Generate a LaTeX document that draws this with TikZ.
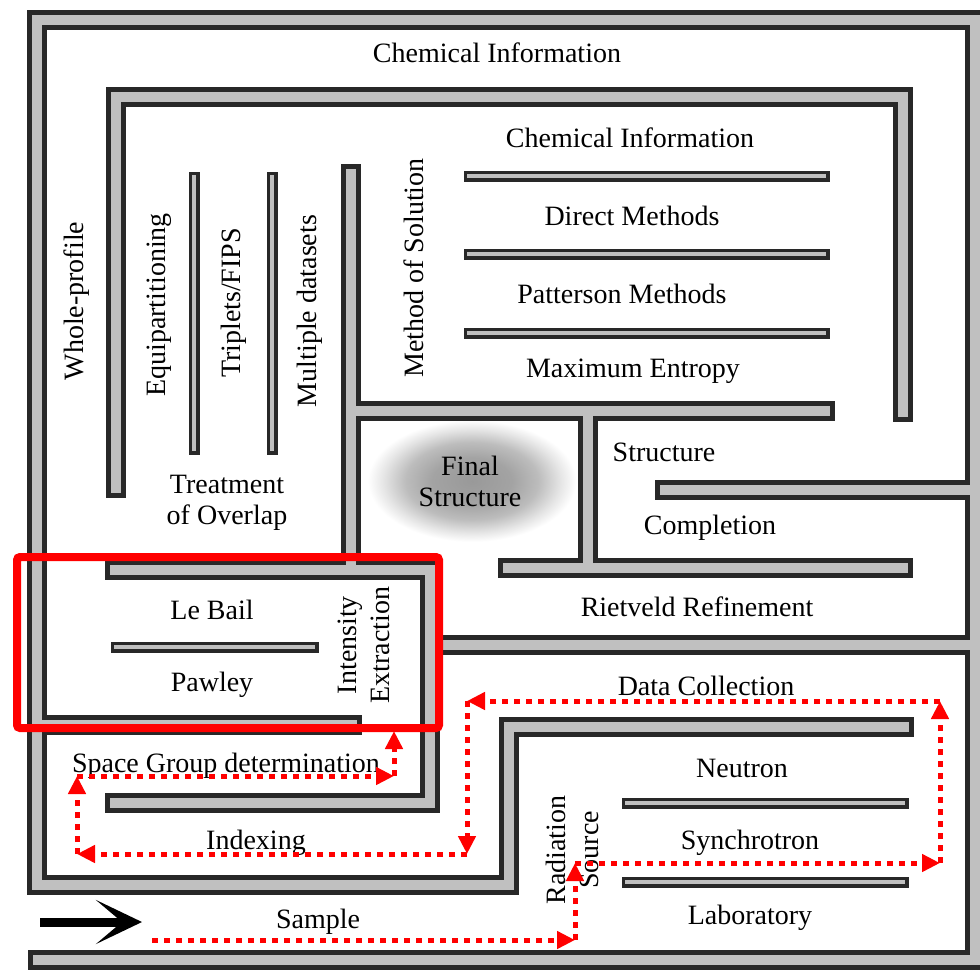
\documentclass[tikz,border=0pt]{standalone}
\usepackage{fontspec}
\setmainfont{Liberation Serif}
\usetikzlibrary{arrows.meta}

\definecolor{wallout}{RGB}{40,40,40}
\definecolor{wallin}{RGB}{192,192,192}

% soft grey patch behind the goal
\pgfdeclareradialshading{goalshade}{\pgfpoint{0bp}{0bp}}{%
  color(0bp)=(black!40); color(9bp)=(black!36); color(15bp)=(black!26);
  color(20bp)=(black!10); color(23.5bp)=(white); color(50bp)=(white)}

% all pipes of the maze, drawn twice (dark body, then grey core)
\newcommand{\mazewalls}{%
\draw[wall] (38,960) -- (975,960) -- (975,20) -- (37,20) -- (37,885) -- (509,885) -- (509,727) -- (904,727);
\draw[wall] (116,488) -- (116,97) -- (903,97) -- (903,412);
\draw[wall] (825,411) -- (351,411) -- (351,174);
\draw[wall] (351,411) -- (351,570);
\draw[wall] (588,411) -- (588,568);
\draw[wall] (508,568) -- (903,568);
\draw[wall] (665,490) -- (975,490);
\draw[wall] (430,645) -- (975,645);
\draw[wall] (115,570) -- (430,570) -- (430,803) -- (115,803);
\draw[wall] (37,725) -- (352,725);
\draw[bar] (469,176) -- (824,176);
\draw[bar] (469,254) -- (824,254);
\draw[bar] (469,333) -- (824,333);
\draw[bar] (194,177) -- (194,449);
\draw[bar] (272,177) -- (272,449);
\draw[bar] (116,647) -- (313,647);
\draw[bar] (627,803) -- (903,803);
\draw[bar] (627,882) -- (903,882);
}

\begin{document}
\begin{tikzpicture}[x=1pt, y=-1pt, line cap=rect, line join=miter,
  lbl/.style={font=\fontsize{28}{31}\selectfont, align=center, inner sep=0pt},
  vlbl/.style={lbl, rotate=90},
  blob/.style={rounded corners=45pt, shading=goalshade},
  route/.style={red, line width=5pt, line cap=butt, dash pattern=on 6pt off 6pt,
    -{Triangle[length=18pt, width=17pt]}}]
\useasboundingbox (0,0) rectangle (980,970);

% goal
\begin{scope}[shift={(472,481)}, xscale=1.68, yscale=0.98]
\shade[blob] (-66,-66) rectangle (66,66);
\end{scope}

% walls
\begin{scope}[wall/.style={line width=20pt, draw=wallout}, bar/.style={line width=11pt, draw=wallout}]
\mazewalls
\end{scope}
\begin{scope}[wall/.style={line width=10pt, draw=wallin}, bar/.style={line width=4pt, draw=wallin}]
\mazewalls
\end{scope}

% labels
\node[lbl] (chemtop) at (497,53) {Chemical Information};
\node[lbl] (chemin) at (630,138) {Chemical Information};
\node[lbl] (direct) at (632,216) {Direct Methods};
\node[lbl] (patterson) at (622,294) {Patterson Methods};
\node[lbl] (maxent) at (633,371) {Maximum Entropy};
\node[vlbl] (whole) at (77,301) {Whole-profile};
\node[vlbl] (equi) at (159,305) {Equipartitioning};
\node[vlbl] (triplets) at (234,303) {Triplets/FIPS};
\node[vlbl] (multi) at (310,311) {Multiple datasets};
\node[vlbl] (method) at (414,268) {Method of Solution};
\node[lbl] (overlap) at (227,503) {Treatment\\of Overlap};
\node[lbl] (final) at (470,481) {Final\\Structure};
\node[lbl] (structure) at (664,452) {Structure};
\node[lbl] (completion) at (710,528) {Completion};
\node[lbl] (rietveld) at (697,607) {Rietveld Refinement};
\node[lbl] (lebail) at (212,610) {Le Bail};
\node[lbl] (pawley) at (212,685) {Pawley};
\node[vlbl, font=\fontsize{28}{33}\selectfont] (intensity) at (364,645) {Intensity\\Extraction};
\node[lbl] (spacegroup) at (226,766) {Space Group determination};
\node[lbl] (indexing) at (256,843) {Indexing};
\node[lbl] (sample) at (318,922) {Sample};
\node[lbl] (datacoll) at (706,686) {Data Collection};
\node[lbl] (neutron) at (742,768) {Neutron};
\node[lbl] (synchro) at (750,843) {Synchrotron};
\node[lbl] (lab) at (750,918) {Laboratory};
\node[vlbl, font=\fontsize{28}{33}\selectfont] (radiation) at (572,850) {Radiation\\Source};

% highlight of the intensity extraction step
\draw[red, line width=8pt, rounded corners=3pt] (17,557) rectangle (439,728);

% entrance
\coordinate (in0) at (40,922);
\coordinate (in1) at (142,922);
\draw[line width=9pt, line cap=butt, -{Stealth[length=46pt, width=44pt, inset=26pt]}] (in0) -- (in1);

% route through the maze
\coordinate (p0) at (152,940);
\coordinate (p1) at (575,940);
\coordinate (p2) at (575,863);
\coordinate (p3) at (940,863);
\coordinate (p4) at (940,701);
\coordinate (p5) at (467,701);
\coordinate (p6) at (467,854);
\coordinate (p7) at (77,854);
\coordinate (p8) at (77,776);
\coordinate (p9) at (394,776);
\coordinate (p10) at (394,731);
\foreach \a/\b in {p0/p1, p1/p2, p2/p3, p3/p4, p4/p5, p5/p6, p6/p7, p7/p8, p8/p9, p9/p10}
  \draw[route] (\a) -- (\b);
\end{tikzpicture}
\end{document}
